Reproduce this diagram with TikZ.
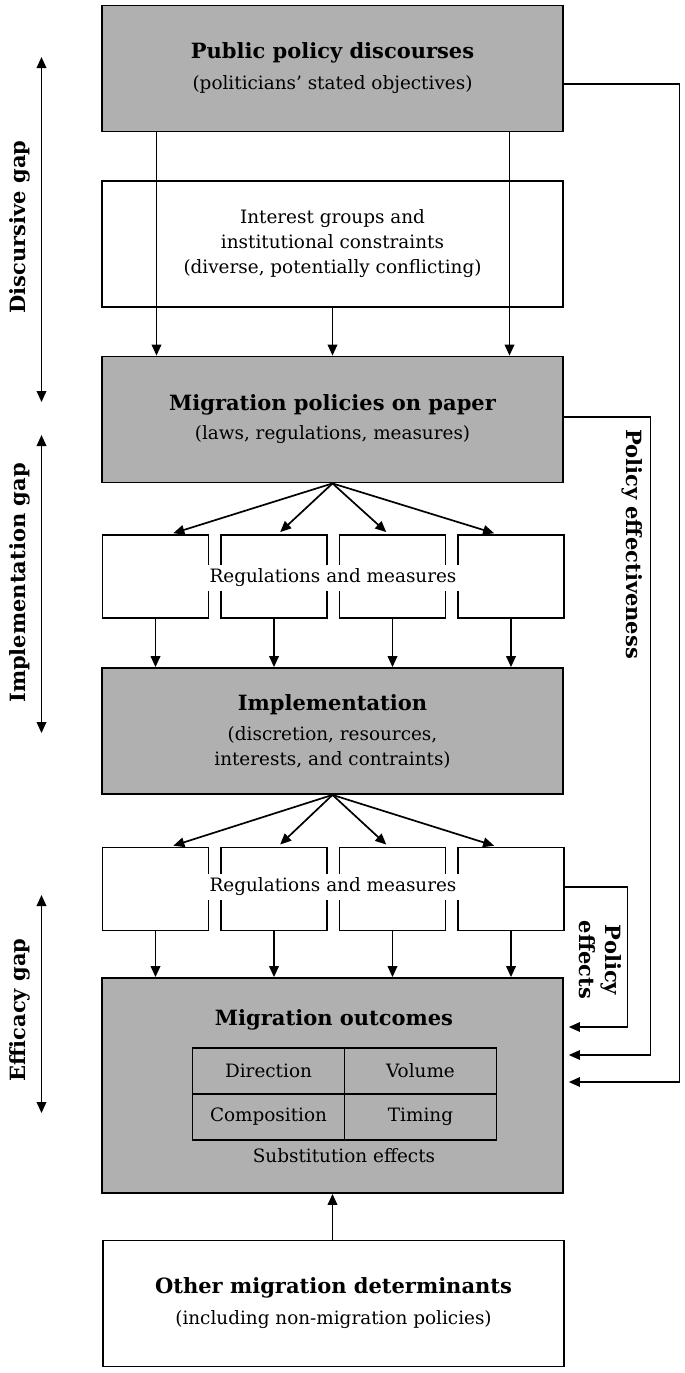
\documentclass[tikz,border=0pt]{standalone}
\usepackage{fontspec}
\setmainfont{DejaVu Serif}
\usepackage{tikz}
\usetikzlibrary{arrows.meta, calc, positioning}
\definecolor{boxgray}{gray}{0.69}
\newcommand{\boxtitle}[1]{{\fontsize{10.5}{13}\selectfont\bfseries #1}}
\tikzset{
    bigbox/.style={draw=black, line width=0.9pt, fill=boxgray, minimum width=230.5pt, minimum height=63pt, align=center, inner sep=0pt},
    plainbox/.style={bigbox, fill=white},
    regbox/.style={draw=black, line width=0.9pt, fill=white, minimum width=53pt, minimum height=41.5pt, inner sep=0pt},
    cellbox/.style={draw=black, line width=0.9pt, minimum width=76pt, minimum height=23pt, inner sep=0pt},
    flow/.style={-{Triangle[length=5.5pt,width=4.8pt]}, line width=0.85pt},
    gapline/.style={{Triangle[length=5.5pt,width=4.8pt]}-{Triangle[length=5.5pt,width=4.8pt]}, line width=0.85pt},
    backline/.style={-{Triangle[length=5.5pt,width=4.8pt]}, line width=0.55pt, shorten >=2.5pt},
    gaplabel/.style={rotate=90, font=\fontsize{10.5}{12.5}\selectfont\bfseries},
    sidelabel/.style={rotate=-90, font=\fontsize{10.5}{13}\selectfont\bfseries, align=center}
}

\begin{document}
\begin{tikzpicture}[x=0.5pt, y=-0.5pt, font=\fontsize{9.2}{12.5}\selectfont]
    \useasboundingbox (0,0) rectangle (685,1373);

    % main column
    \node[bigbox] (pub) at (332.5, 68.5) {\boxtitle{Public policy discourses}\\[3pt](politicians' stated objectives)};
    \node[plainbox] (intr) at (332.5, 244) {Interest groups and\\institutional constraints\\(diverse, potentially conflicting)};
    \node[bigbox] (paper) at (332.5, 419.5) {\boxtitle{Migration policies on paper}\\[2pt](laws, regulations, measures)};
    \node[bigbox] (impl) at (332.5, 731) {\boxtitle{Implementation}\\[2.5pt](discretion, resources,\\interests, and contraints)};
    \node[bigbox, minimum height=107.5pt] (outc) at (332.5, 1085.5) {};
    \node[plainbox] (other) at (333.5, 1303.5) {\boxtitle{Other migration determinants}\\[3pt](including non-migration policies)};

    % regulations and measures
    \foreach \i/\x in {1/155.5, 2/274, 3/392.5, 4/511} {
        \node[regbox] (ra\i) at (\x, 576.5) {};
        \node[regbox] (rb\i) at (\x, 889) {};
    }
    \node[fill=white, inner sep=2pt] (rlaba) at (333, 578) {Regulations and measures};
    \node[fill=white, inner sep=2pt] (rlabb) at (333, 887) {Regulations and measures};

    % outcomes
    \node (otitle) at (334, 1020) {\boxtitle{Migration outcomes}};
    \node[cellbox] (dir) at (268.5, 1071) {Direction};
    \node[cellbox] (vol) at (420.5, 1071) {Volume};
    \node[cellbox] (comp) at (268.5, 1117) {Composition};
    \node[cellbox] (tim) at (420.5, 1117) {Timing};
    \node (subst) at (344, 1156) {Substitution effects};

    % arrows in the column
    \draw[flow] ([xshift=-88pt]pub.south) -- ([xshift=-88pt]paper.north);
    \draw[flow] ([xshift=88.5pt]pub.south) -- ([xshift=88.5pt]paper.north);
    \draw[flow] (intr.south) -- (paper.north);
    \foreach \i/\s in {1/7.5pt, 2/2pt, 3/-2pt, 4/-7pt} {
        \draw[flow, shorten >=1.5pt] (paper.south) -- ([xshift=\s]ra\i.north);
        \draw[flow, shorten >=1.5pt] (impl.south) -- ([xshift=\s]rb\i.north);
        \draw[flow] (ra\i.south) -- (ra\i.south |- impl.north);
        \draw[flow] (rb\i.south) -- (rb\i.south |- outc.north);
    }
    \draw[flow] (other.north -| outc.south) -- (outc.south);

    % feedback lines
    \draw[backline] ([yshift=-7.75pt]pub.east) -- ++(58pt,0) |- ([yshift=1.75pt]outc.east);
    \draw[backline] ([yshift=1.25pt]paper.east) -- ++(43.5pt,0) |- ([yshift=15.25pt]outc.east);
    \draw[backline] ([yshift=1pt]rb4.east) -- ++(31.5pt,0) |- ([yshift=29.25pt]outc.east);
    \node[sidelabel] (effness) at (632, 544) {Policy effectiveness};
    \node[sidelabel] (effects) at (600, 960) {Policy\\effects};

    % gaps
    \coordinate (dga) at (41.5, 57);
    \coordinate (dgb) at (41.5, 402);
    \coordinate (iga) at (41.5, 435);
    \coordinate (igb) at (41.5, 733);
    \coordinate (ega) at (41.5, 895);
    \coordinate (egb) at (41.5, 1113);
    \draw[gapline] (dga) -- (dgb);
    \draw[gapline] (iga) -- (igb);
    \draw[gapline] (ega) -- (egb);
    \node[gaplabel] (dglab) at (20, 227) {Discursive gap};
    \node[gaplabel] (iglab) at (20, 583) {Implementation gap};
    \node[gaplabel] (eglab) at (20, 1010) {Efficacy gap};
\end{tikzpicture}
\end{document}
